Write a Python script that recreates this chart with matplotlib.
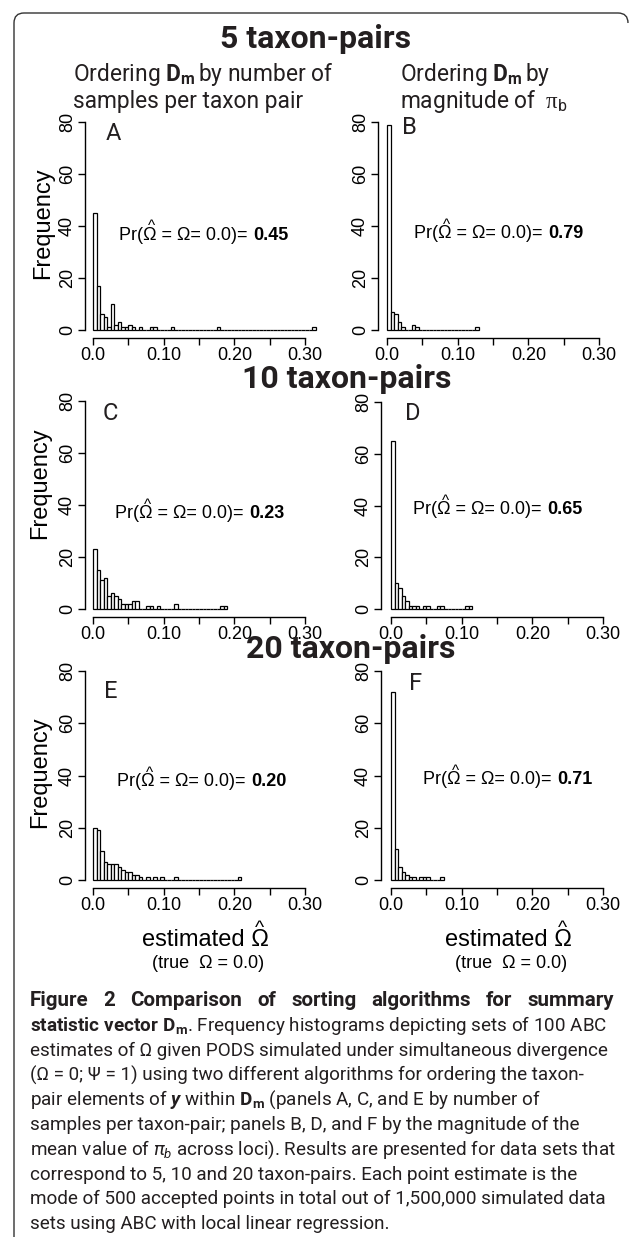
import numpy as np
import matplotlib
matplotlib.use("Agg")
import matplotlib.pyplot as plt
from matplotlib.path import Path
from matplotlib.patches import PathPatch

plt.rcParams['font.family'] = ['Liberation Sans', 'DejaVu Sans']
plt.rcParams['mathtext.fontset'] = 'custom'
plt.rcParams['mathtext.rm'] = 'Roboto'
plt.rcParams['mathtext.it'] = 'Roboto:italic'
plt.rcParams['mathtext.bf'] = 'Roboto:bold'
plt.rcParams['mathtext.bfit'] = 'Roboto:bold:italic'
plt.rcParams['mathtext.sf'] = 'Roboto'
plt.rcParams['mathtext.tt'] = 'Liberation Serif'

W, H = 633, 1240
PT = 100 / 72.0
TXT = "#231f20"
ROBO = ['Roboto', 'DejaVu Sans']

# frequencies per 0.005-wide bin of estimated Omega, starting at 0
BIN = 0.005
counts_a = [45, 17, 6, 5, 1, 10, 2, 3, 1, 1,
            2, 1, 0, 1, 0, 0, 1, 1, 0, 0,
            0, 0, 1, 0, 0, 0, 0, 0, 0, 0,
            0, 0, 0, 0, 0, 1, 0, 0, 0, 0,
            0, 0, 0, 0, 0, 0, 0, 0, 0, 0,
            0, 0, 0, 0, 0, 0, 0, 0, 0, 0,
            0, 0, 1]
counts_b = [79, 7, 6, 3, 1, 0, 0, 2, 1, 0,
            0, 0, 0, 0, 0, 0, 0, 0, 0, 0,
            0, 0, 0, 0, 0, 1]
counts_c = [23, 15, 11, 12, 5, 6, 5, 4, 2, 2,
            2, 3, 3, 0, 0, 1, 1, 0, 1, 0,
            0, 0, 0, 2, 0, 0, 0, 0, 0, 0,
            0, 0, 0, 0, 0, 0, 1, 1]
counts_d = [65, 10, 8, 5, 3, 1, 1, 1, 0, 1,
            1, 0, 0, 1, 1, 0, 0, 0, 0, 0,
            0, 1, 1]
counts_e = [20, 19, 11, 7, 6, 6, 6, 5, 4, 3,
            3, 2, 2, 1, 0, 1, 0, 1, 0, 1,
            0, 0, 0, 1, 0, 0, 0, 0, 0, 0,
            0, 0, 0, 0, 0, 0, 0, 0, 0, 0,
            0, 1]
counts_f = [72, 12, 5, 3, 2, 1, 1, 0, 1, 1,
            1, 0, 0, 0, 1]

panel_counts = [counts_a, counts_b, counts_c, counts_d, counts_e, counts_f]
panel_letters = ["A", "B", "C", "D", "E", "F"]
pr_values = ["0.45", "0.79", "0.23", "0.65", "0.20", "0.71"]
row_titles = ["5 taxon-pairs", "10 taxon-pairs", "20 taxon-pairs"]
x_ticks = [0.0, 0.05, 0.10, 0.15, 0.20, 0.25, 0.30]
x_ticklabels = ["0.0", "", "0.10", "", "0.20", "", "0.30"]
y_ticks = [0, 20, 40, 60, 80]

caption = [
    "Figure 2 Comparison of sorting algorithms for summary",
    r"$\mathbf{statistic\ vector\ D_m}$. Frequency histograms depicting sets of 100 ABC",
    "estimates of Ω given PODS simulated under simultaneous divergence",
    "(Ω = 0; Ψ = 1) using two different algorithms for ordering the taxon-",
    r"pair elements of $\mathbfit{y}$ within $\mathbf{D_m}$ (panels A, C, and E by number of",
    "samples per taxon-pair; panels B, D, and F by the magnitude of the",
    r"mean value of $\mathit{\pi_b}$ across loci). Results are presented for data sets that",
    "correspond to 5, 10 and 20 taxon-pairs. Each point estimate is the",
    "mode of 500 accepted points in total out of 1,500,000 simulated data",
    "sets using ABC with local linear regression.",
]

# panel geometry in pixels: y-axis line, x of 0 and 0.30, y of 80 and 0, x-axis line
geom = [
    dict(axx=85, x0=93, x1=305, yt=122, yb=330, yl=338),
    dict(axx=378, x0=387, x1=599, yt=122, yb=330, yl=338),
    dict(axx=85, x0=93, x1=305, yt=401, yb=609, yl=617),
    dict(axx=381, x0=391, x1=603, yt=402, yb=609, yl=617),
    dict(axx=85, x0=93, x1=305, yt=671, yb=880, yl=888),
    dict(axx=381, x0=391, x1=603, yt=671, yb=880, yl=888),
]
letter_pos = [(106, 131), (402, 126), (103, 412), (405, 411), (104, 690), (409, 682)]
pr_pos = [(119, 233), (414, 232), (115, 512), (413, 508), (117, 780), (423, 778)]
freq_pos = [(43, 223), (40, 483), (40, 772)]
title_pos = [(316, 48), (347, 388), (351, 658)]

fig = plt.figure(figsize=(W / 100, H / 100), dpi=100)
fig.patch.set_facecolor("white")

for counts, g in zip(panel_counts, geom):
    ppx = (g["x1"] - g["x0"]) / 0.30
    ppy = (g["yb"] - g["yt"]) / 80.0
    xlo, xhi = -(g["x0"] - g["axx"]) / ppx, 0.32
    ylo, yhi = -(g["yl"] - g["yb"]) / ppy, 82
    right = g["x0"] + xhi * ppx
    top = g["yb"] - yhi * ppy
    ax = fig.add_axes([g["axx"] / W, 1 - g["yl"] / H,
                       (right - g["axx"]) / W, (g["yl"] - top) / H])
    ax.patch.set_visible(False)
    lefts = np.arange(len(counts)) * BIN
    ax.bar(lefts, counts, width=BIN, align="edge", color="white",
           edgecolor="black", linewidth=0.9)
    ax.set_xlim(xlo, xhi)
    ax.set_ylim(ylo, yhi)
    ax.spines[["top", "right"]].set_visible(False)
    ax.spines["left"].set_bounds(0, 80)
    ax.spines["bottom"].set_bounds(0, 0.30)
    for s in ("left", "bottom"):
        ax.spines[s].set_linewidth(1.0)
    ax.set_xticks(x_ticks)
    ax.set_xticklabels(x_ticklabels)
    ax.set_yticks(y_ticks)
    ax.set_yticklabels([str(v) for v in y_ticks], rotation=90, va="center")
    ax.tick_params(direction="out", length=5, width=1, pad=1.5, labelsize=13)

# overlay in pixel coordinates for all loose text
ax0 = fig.add_axes([0, 0, 1, 1], zorder=10)
ax0.set_xlim(0, W)
ax0.set_ylim(H, 0)
ax0.axis("off")
rend = fig.canvas.get_renderer()


def tw(s, **kw):
    t = ax0.text(0, 0, s, **kw)
    w = t.get_window_extent(renderer=rend).width
    t.remove()
    return w


# box outline (top edge with rounded corners and the left side)
r = 10
verts = [(14, 1237), (14, 13 + r), (14, 13), (14 + r, 13), (628 - r, 13),
         (628, 13), (628, 13 + r)]
codes = [Path.MOVETO, Path.LINETO, Path.CURVE3, Path.CURVE3, Path.LINETO,
         Path.CURVE3, Path.CURVE3]
ax0.add_patch(PathPatch(Path(verts, codes), fill=False, edgecolor="#333333", lw=1.0))

for t, (cx, base) in zip(row_titles, title_pos):
    ax0.text(cx, base, t, family=ROBO, fontweight="bold", fontsize=23, color=TXT,
             ha="center", va="baseline")

sub_kw = dict(family=ROBO, fontsize=16.4, color=TXT, va="baseline")
ax0.text(73, 81, r"Ordering $\mathbf{D_m}\,$by number of", **sub_kw)
ax0.text(73, 108, "samples per taxon pair", **sub_kw)
ax0.text(400, 81, r"Ordering $\mathbf{D_m}\,$by", **sub_kw)
ax0.text(400, 108, r"magnitude of  $\mathtt{\pi}_\mathrm{b}$", **sub_kw)

for lab, (x, cy) in zip(panel_letters, letter_pos):
    ax0.text(x, cy + 0.36 * 17 * PT, lab, family=ROBO, fontsize=17, color=TXT,
             va="baseline")

for x, cy in freq_pos:
    ax0.text(x, cy, "Frequency", fontsize=17, rotation=90, ha="center", va="center")


def hat(x, base, size):
    ax0.text(x, base, "^", fontsize=size, ha="center", va="baseline")


for val, (x, cy) in zip(pr_values, pr_pos):
    em = 13 * PT
    base = cy + 0.36 * em
    kw = dict(fontsize=13, va="baseline", ha="left", color="black")
    main = "Pr(Ω = Ω= 0.0)="
    ax0.text(x, base, main, **kw)
    w_main = tw(main, **kw)
    w_pre = tw("Pr(", **kw)
    w_om = tw("Ω", **kw)
    hat(x + w_pre + 1.5 + w_om / 2, base - 9.4, 11)
    ax0.text(x + w_main + 0.3 * em, base, val, fontweight="bold", **kw)

for cx, cy, cy2 in [(205, 937, 963), (508, 937, 963)]:
    em = 17 * PT
    base = cy + 0.36 * em
    kw = dict(fontsize=17, va="baseline", ha="center", color="black")
    s = "estimated Ω"
    ax0.text(cx, base, s, **kw)
    w = tw(s, **kw)
    w_om = tw("Ω", **kw)
    hat(cx + w / 2 - w_om / 2, base - 12.5, 14)
    ax0.text(cx + 3, cy2, "(true  Ω = 0.0)", fontsize=13, ha="center", va="center")

# caption: first line bold and justified, the rest left-aligned
cap_kw = dict(family=ROBO, fontsize=13.6, color=TXT, va="baseline", ha="left")
words = caption[0].split()
bkw = dict(cap_kw, fontweight="bold", fontsize=14.8)
ws = [tw(wd, **bkw) for wd in words]
gap = (614 - 30 - sum(ws)) / (len(words) - 1)
xx = 30
for wd, wdt in zip(words, ws):
    ax0.text(xx, 1006, wd, **bkw)
    xx += wdt + gap
for i, line in enumerate(caption[1:], start=1):
    ax0.text(30, 1006 + i * 24.8, line, **cap_kw)

fig.savefig("out.png", dpi=100, facecolor="white")
